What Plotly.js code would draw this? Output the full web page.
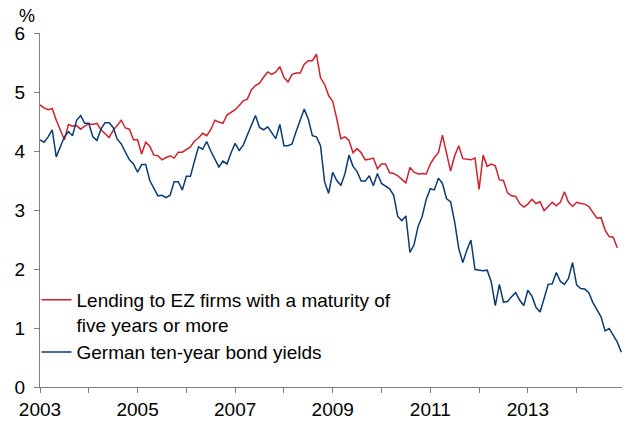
<!DOCTYPE html>
<html>
<head>
<meta charset="utf-8">
<script src="https://cdn.plot.ly/plotly-3.0.1.min.js"></script>
<style>html,body{margin:0;padding:0;background:#fff;}#chart{width:626px;height:421px;}</style>
</head>
<body>
<div id="chart"></div>
<script>
// Monthly data, Jan 2003 onwards (%)
var startYear = 2003;
var lendingRates = [
  4.78,4.73,4.70,4.72,4.52,4.35,4.19,4.45,4.42,4.43,4.37,4.42,
  4.46,4.45,4.47,4.36,4.30,4.23,4.35,4.43,4.52,4.39,4.37,4.19,
  4.19,3.95,4.15,4.08,3.93,3.92,3.85,3.89,3.92,3.88,3.98,3.98,
  4.02,4.07,4.17,4.22,4.30,4.26,4.36,4.52,4.49,4.47,4.61,4.65,
  4.70,4.77,4.85,4.88,5.04,5.11,5.15,5.25,5.34,5.30,5.34,5.43,
  5.25,5.17,5.30,5.32,5.32,5.47,5.53,5.53,5.64,5.24,5.13,4.94,
  4.84,4.55,4.21,4.24,4.18,3.97,4.04,3.97,3.85,3.86,3.88,3.70,
  3.78,3.78,3.63,3.62,3.58,3.52,3.46,3.72,3.64,3.61,3.62,3.61,
  3.78,3.89,3.97,4.27,3.96,3.66,3.92,4.09,3.87,3.86,3.85,3.88,
  3.35,3.93,3.74,3.78,3.75,3.51,3.50,3.29,3.24,3.23,3.11,3.05,
  3.10,3.18,3.11,3.14,2.99,3.06,3.13,3.07,3.13,3.31,3.13,3.06,
  3.13,3.11,3.10,3.06,2.96,2.86,2.87,2.66,2.55,2.54,2.36
];
var bundYields = [
  4.19,4.15,4.24,4.36,3.90,4.07,4.24,4.33,4.26,4.52,4.60,4.47,
  4.47,4.24,4.18,4.37,4.48,4.48,4.40,4.20,4.12,3.98,3.85,3.78,
  3.64,3.77,3.77,3.50,3.37,3.24,3.25,3.21,3.25,3.48,3.48,3.34,
  3.57,3.57,3.83,4.07,4.03,4.16,4.00,3.87,3.73,3.83,3.78,3.97,
  4.13,4.01,4.10,4.27,4.44,4.60,4.40,4.36,4.41,4.30,4.21,4.45,
  4.09,4.09,4.12,4.33,4.54,4.71,4.54,4.26,4.24,4.09,3.48,3.28,
  3.64,3.50,3.42,3.61,3.93,3.74,3.65,3.49,3.49,3.58,3.41,3.62,
  3.45,3.40,3.36,3.25,2.89,2.82,2.90,2.28,2.41,2.72,2.89,3.18,
  3.36,3.34,3.54,3.45,3.19,3.14,2.80,2.35,2.11,2.32,2.49,1.99,
  1.98,1.97,1.98,1.78,1.38,1.74,1.44,1.45,1.53,1.60,1.47,1.38,
  1.64,1.54,1.35,1.27,1.50,1.74,1.75,1.94,1.79,1.74,1.84,2.11,
  1.73,1.67,1.66,1.60,1.43,1.31,1.19,0.95,0.99,0.88,0.76,0.59
];
var seriesNames = [
  "Lending to EZ firms with a maturity of<br>five years or more",
  "German ten-year bond yields"
];
var tickYears = [2003,2004,2005,2006,2007,2008,2009,2010,2011,2012,2013,2014];
var tickLabels = ["2003","","2005","","2007","","2009","","2011","","2013",""];
var yUnit = "%";

function monthAxis(arr){ return arr.map(function(_, i){ return startYear + i/12; }); }

var FONT = "Arial, 'Liberation Sans', sans-serif";
var AX = "#7f7f7f";

var traces = [
  {x: monthAxis(lendingRates), y: lendingRates, name: seriesNames[0], type: "scatter", mode: "lines",
   line: {color: "#d0202e", width: 1.5}},
  {x: monthAxis(bundYields), y: bundYields, name: seriesNames[1], type: "scatter", mode: "lines",
   line: {color: "#0b3b72", width: 1.5}}
];

var layout = {
  width: 626, height: 421,
  margin: {l: 40, r: 4, t: 33, b: 34, pad: 0},
  paper_bgcolor: "#fff", plot_bgcolor: "#fff",
  font: {family: FONT, size: 19, color: "#000"},
  showlegend: true,
  legend: {x: -0.006, y: 0.30, xanchor: "left", yanchor: "top", bgcolor: "rgba(0,0,0,0)",
           font: {family: FONT, size: 19, color: "#000"}, valign: "top", tracegroupgap: 2,
           itemwidth: 30},
  xaxis: {range: [2003, 2014.93], tickmode: "array", tickvals: tickYears, ticktext: tickLabels,
          ticks: "outside", ticklen: 5, tickcolor: AX, tickwidth: 1,
          showline: true, linecolor: AX, linewidth: 1, showgrid: false, zeroline: false,
          tickfont: {family: FONT, size: 19, color: "#000"}},
  yaxis: {range: [0, 6], dtick: 1, tick0: 0, ticks: "outside", ticklen: 5, tickcolor: AX, tickwidth: 1,
          ticklabelstandoff: 5,
          showline: true, linecolor: AX, linewidth: 1, showgrid: false, zeroline: false,
          tickfont: {family: FONT, size: 19, color: "#000"}},
  annotations: [
    {text: yUnit, xref: "paper", yref: "paper", x: 0, y: 1, xshift: -13, yshift: 5,
     xanchor: "center", yanchor: "bottom", showarrow: false,
     font: {family: FONT, size: 18, color: "#000"}}
  ]
};

Plotly.newPlot("chart", traces, layout, {staticPlot: true, displayModeBar: false});
</script>
</body>
</html>
